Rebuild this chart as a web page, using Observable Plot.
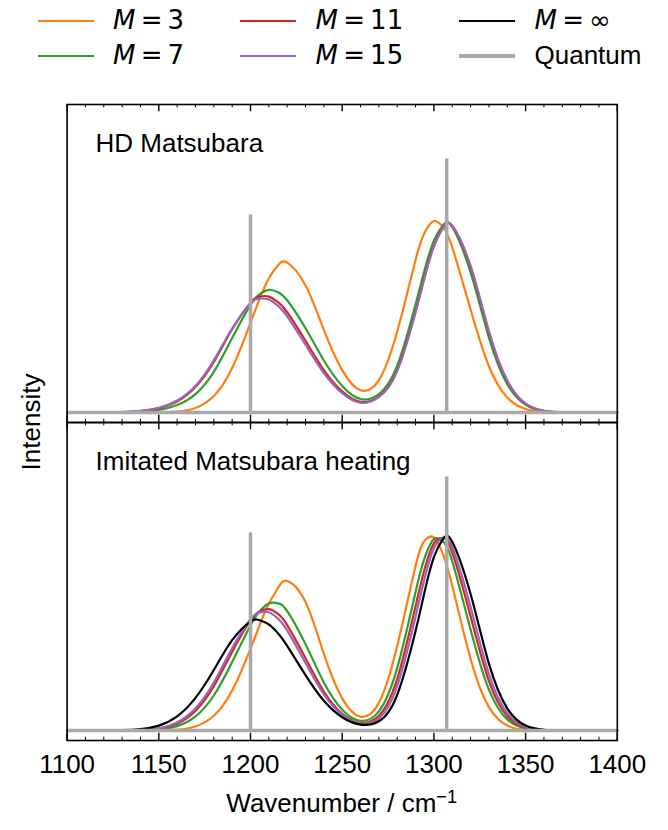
<!DOCTYPE html>
<html><head><meta charset="utf-8">
<script src="https://cdn.jsdelivr.net/npm/d3@7"></script>
<script src="https://cdn.jsdelivr.net/npm/@observablehq/plot@0.6"></script>
<style>
body{margin:0;background:#fff;}
#wrap{position:relative;width:668px;height:830px;font-family:"Liberation Sans",Arial,sans-serif;color:#000;overflow:hidden;}
.leg{position:absolute;font-size:26px;line-height:1;white-space:nowrap;}
.sw{position:absolute;}
.math{font-family:"DejaVu Sans",sans-serif;}
#chart{position:absolute;left:0;top:90px;}
#xlabel{position:absolute;font-size:26px;white-space:nowrap;transform:translateX(-50%);}
#ylabel{position:absolute;font-size:26px;white-space:nowrap;transform:translate(-50%,-50%) rotate(-90deg);}
</style></head><body>
<div id="wrap"><div id="legend"></div><div id="chart"></div>
<div id="xlabel">Wavenumber / cm<sup style="font-size:0.7em;vertical-align:0.5em;line-height:0">−1</sup></div>
<div id="ylabel">Intensity</div></div>
<script>
// ---- data (intensity in arbitrary units) ----
const wavenumber = [1100,1110,1120,1130,1140,1150,1160,1170,1180,1190,1200,1205,1210,1215,1220,1230,1240,1250,1260,1270,1280,1290,1295,1300,1305,1310,1320,1330,1340,1350,1360,1370,1380,1390,1400];
const panels = ["HD Matsubara", "Imitated Matsubara heating"];
const labels = ["M = 3", "M = 7", "M = 11", "M = 15", "M = ∞"];
// HD Matsubara panel
const hdM3  = [0,0,0,0,0,0.1,0.9,4.5,16.5,44.6,89.8,114.0,134.6,147.5,150.2,127.3,82.9,42.5,22.3,32.4,81.2,152.9,180.3,192,185.8,165.7,103.2,46.4,15.0,3.5,0.6,0.1,0,0,0];
const hdM7  = [0,0,0,0.1,0.6,2.5,7.5,18.5,40.7,74.6,107.9,118.7,123,120.6,112.5,84.5,52.1,26.6,13.5,18.5,47.0,108.4,143.3,172.2,187.7,185.9,140.4,75.1,28.4,7.6,1.4,0.2,0,0,0];
const hdM11 = [0,0,0.1,0.4,1.4,4.2,11,25.5,50.8,83.4,110.1,116.3,116.2,110.6,100.5,71.9,42.6,21.2,10.7,16.0,42.5,101.7,136.9,167.4,185.6,186.9,145.7,80.3,31.3,8.7,1.7,0.2,0,0,0];
const hdM15 = [0,0,0.1,0.5,1.6,4.6,12,26.5,52.2,84.1,109.1,114.2,113.2,106.9,96.4,67.9,39.6,19.4,9.8,15.5,41.5,100.2,135.5,166.4,185.2,187.2,146.9,81.6,32.0,8.9,1.8,0.2,0,0,0];
// Imitated Matsubara heating panel
const imM3  = [0,0,0,0,0,0.1,0.9,4.1,14.8,40.0,81.9,105.7,127.2,142.9,149.8,128.8,76.8,32.2,13.8,27.8,84.8,164.9,190.3,193.5,176.6,145.2,71.9,23.5,5.0,0.7,0.1,0,0,0,0];
const imM7  = [0,0,0,0,0.2,1.1,4.4,14.1,35.1,68.7,105.6,119.5,127.3,127.5,119.7,86.6,48.2,20.9,9.8,19.2,62.8,138.9,173.3,191.9,189.5,169.6,101.3,40.9,11.2,2.1,0.3,0,0,0,0];
const imM11 = [0,0,0,0.1,0.4,1.9,6.9,19.7,44.4,78.8,110.3,119.3,121.6,116.8,105.6,72.4,39.1,16.8,7.7,14.7,51.7,124.6,162.2,187.5,192.7,178.5,114.4,49.6,14.5,2.9,0.4,0,0,0,0];
const imM15 = [0,0,0,0.1,0.5,2.3,8.1,22.2,48.2,82.6,111.5,118.4,118.6,112.2,100.3,67.6,36.3,15.7,6.9,12.1,44.6,114.1,153.2,182.7,193.4,183.8,123.9,56.5,17.4,3.6,0.5,0.1,0,0,0];
const imMinf= [0,0,0.1,0.3,1.4,4.9,14.2,32.7,60.6,90.6,109.2,110.5,106.3,97.4,84.9,55.6,29.9,13.3,5.9,9.3,35.8,99.7,139.7,173.8,192.1,189.3,136.9,67.0,22.2,5.0,0.8,0.1,0,0,0];
// Quantum stick spectrum
const quantumPos = [1200, 1307];
const quantumInt = [198, 254];
// axis ticks
const majorTicks = [1100,1150,1200,1250,1300,1350,1400];
const minorTicks = d3.range(1100, 1401, 10).filter(v => v % 50 !== 0);

const colors = {"M = 3":"#ff7f0e","M = 7":"#2ca02c","M = 11":"#d62728","M = 15":"#9467bd","M = ∞":"#000000"};
const gray = "#a9a9a9";

const seriesList = [
  {panel: panels[0], label: "M = 3", values: hdM3},
  {panel: panels[0], label: "M = 7", values: hdM7},
  {panel: panels[0], label: "M = 11", values: hdM11},
  {panel: panels[0], label: "M = 15", values: hdM15},
  {panel: panels[1], label: "M = 3", values: imM3},
  {panel: panels[1], label: "M = 7", values: imM7},
  {panel: panels[1], label: "M = 11", values: imM11},
  {panel: panels[1], label: "M = 15", values: imM15},
  {panel: panels[1], label: "M = ∞", values: imMinf}
];

// ---- layout ----
const W = 668, svgTop = 90, svgH = 740;
const frameLeft = 66.6, frameRight = 616.8, frameTop = 103.3, frameBottom = 740.7;
const facetH = (frameBottom - frameTop) / 2;

const lineMarks = seriesList.map(s => Plot.line(
  wavenumber.map((x, i) => ({x, y: s.values[i], panel: s.panel})),
  {x: "x", y: "y", fy: "panel", stroke: colors[s.label], strokeWidth: 2.2, curve: "natural"}
));

const chart = Plot.plot({
  width: W, height: svgH,
  marginLeft: frameLeft, marginRight: W - frameRight,
  marginTop: frameTop - svgTop, marginBottom: svgTop + svgH - frameBottom,
  style: {fontFamily: "Liberation Sans, Arial, sans-serif", fontSize: "26px", color: "#000", background: "transparent", overflow: "visible"},
  x: {domain: [1100, 1400], axis: null, label: null},
  y: {domain: [-10, facetH - 10], axis: null},
  fy: {domain: panels, axis: null, padding: 0},
  marks: [
    ...lineMarks,
    Plot.ruleY([0], {stroke: gray, strokeWidth: 3.5}),
    Plot.ruleX(quantumPos, {x: quantumPos, y1: 0, y2: quantumInt, stroke: gray, strokeWidth: 3.5}),
    Plot.text(panels, {fy: d => d, text: d => d, frameAnchor: "top-left", lineAnchor: "top", textAnchor: "start", dx: 28.4, dy: 29.4, fontSize: 26, fill: "#000"}),
    Plot.tickX(majorTicks, {x: d => d, insetTop: facetH - 8, stroke: "#000", strokeWidth: 1.4}),
    Plot.tickX(majorTicks, {x: d => d, insetBottom: facetH - 8, stroke: "#000", strokeWidth: 1.4}),
    Plot.tickX(minorTicks, {x: d => d, insetTop: facetH - 4, stroke: "#000", strokeWidth: 1}),
    Plot.tickX(minorTicks, {x: d => d, insetBottom: facetH - 4, stroke: "#000", strokeWidth: 1}),
    Plot.frame({stroke: "#000", strokeWidth: 1.6}),
    Plot.axisX(majorTicks, {anchor: "bottom", label: null, tickSize: 0, tickPadding: 14, tickFormat: d => String(d), fontSize: 26, fill: "#000"})
  ]
});
document.getElementById("chart").appendChild(chart);

// ---- legend (HTML, above the chart) ----
const legend = document.getElementById("legend");
const legendItems = [
  {label: "M = 3", color: colors["M = 3"], col: 0, row: 0},
  {label: "M = 7", color: colors["M = 7"], col: 0, row: 1},
  {label: "M = 11", color: colors["M = 11"], col: 1, row: 0},
  {label: "M = 15", color: colors["M = 15"], col: 1, row: 1},
  {label: "M = ∞", color: colors["M = ∞"], col: 2, row: 0},
  {label: "Quantum", color: gray, col: 2, row: 1}
];
const colX = [37.5, 240, 459], rowY = [21, 56];
for (const it of legendItems) {
  const sw = document.createElement("div");
  sw.className = "sw";
  const thick = it.label === "Quantum" ? 4 : 2.5;
  sw.style.cssText = `left:${colX[it.col]}px;top:${rowY[it.row] - thick/2}px;width:56px;height:${thick}px;background:${it.color}`;
  legend.appendChild(sw);
  const tx = document.createElement("div");
  tx.className = "leg";
  tx.style.left = (colX[it.col] + 75.5) + "px";
  tx.style.top = (rowY[it.row] - 14) + "px";
  if (it.label.startsWith("M")) {
    tx.innerHTML = `<span class="math"><i>M</i>&#8201;=&#8201;${it.label.slice(4)}</span>`;
  } else tx.textContent = it.label;
  legend.appendChild(tx);
}
const xl = document.getElementById("xlabel");
xl.style.left = ((frameLeft + frameRight) / 2) + "px";
xl.style.top = "788px";
const yl = document.getElementById("ylabel");
yl.style.left = "31px";
yl.style.top = ((frameTop + frameBottom) / 2) + "px";
</script>
</body></html>
